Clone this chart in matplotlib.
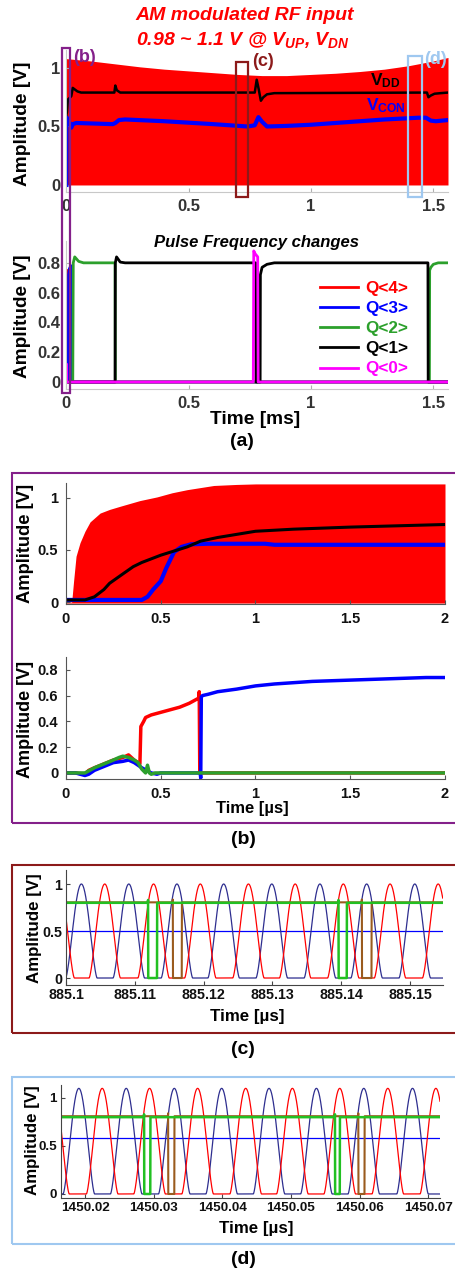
import numpy as np
import matplotlib
matplotlib.use("Agg")
import matplotlib.pyplot as plt
from matplotlib.patches import Rectangle

plt.rcParams['font.family'] = ['Liberation Sans', 'DejaVu Sans']
plt.rcParams['font.weight'] = 'bold'
plt.rcParams['mathtext.fontset'] = 'custom'
plt.rcParams['mathtext.rm'] = 'Liberation Sans:bold'
plt.rcParams['mathtext.bf'] = 'Liberation Sans:bold'
plt.rcParams['mathtext.it'] = 'Liberation Sans:bold:italic'

# ---------------- (a) upper: RF envelope, VDD, VCON (time in ms) ----------------
rf_env_t = [0.00, 0.10, 0.20, 0.30, 0.40, 0.50, 0.60, 0.70, 0.80, 0.90, 1.00, 1.10, 1.20, 1.30, 1.40, 1.50, 1.56]
rf_env_v = [1.08, 1.06, 1.035, 1.01, 0.99, 0.975, 0.96, 0.945, 0.935, 0.935, 0.945, 0.955, 0.97, 0.99, 1.02, 1.06, 1.09]

vdd_t = [0.000, 0.002, 0.006, 0.016, 0.020, 0.026, 0.032, 0.045, 0.060, 0.196, 0.200, 0.206, 0.220,
         0.770, 0.778, 0.786, 0.795, 0.805, 0.820, 0.850, 1.474, 1.480, 1.490, 1.505, 1.530, 1.560]
vdd_v = [0.60, 0.62, 0.73, 0.75, 0.76, 0.83, 0.82, 0.80, 0.79, 0.79, 0.85, 0.81, 0.79,
         0.79, 0.90, 0.82, 0.72, 0.75, 0.775, 0.785, 0.79, 0.75, 0.765, 0.78, 0.785, 0.79]

vcon_t = [0.000, 0.0005, 0.002, 0.008, 0.016, 0.020, 0.026, 0.040, 0.190, 0.200, 0.215, 0.240, 0.400,
          0.600, 0.740, 0.770, 0.785, 0.800, 0.820, 0.900, 1.000, 1.100, 1.200, 1.300, 1.440, 1.470,
          1.490, 1.510, 1.560]
vcon_v = [0.00, 0.58, 0.57, 0.55, 0.52, 0.49, 0.52, 0.53, 0.52, 0.53, 0.555, 0.56, 0.545,
          0.52, 0.50, 0.51, 0.58, 0.54, 0.50, 0.505, 0.515, 0.53, 0.545, 0.56, 0.575, 0.575,
          0.55, 0.545, 0.555]

# ---------------- (a) lower: counter outputs Q<4:0> ----------------
q_labels = ['Q<4>', 'Q<3>', 'Q<2>', 'Q<1>', 'Q<0>']
q4_t = [0.0, 0.001, 0.002, 0.004, 0.007, 0.0085, 0.009, 1.56]
q4_v = [0.0, 0.12, 0.70, 0.74, 0.75, 0.75, 0.0, 0.0]
q3_t = [0.0, 0.008, 0.009, 0.012, 0.018, 0.020, 0.021, 1.56]
q3_v = [0.0, 0.0, 0.72, 0.76, 0.78, 0.78, 0.0, 0.0]
q2_t = [0.0, 0.026, 0.028, 0.034, 0.050, 0.070, 0.199, 0.200, 1.484, 1.485, 1.490, 1.500, 1.520, 1.560]
q2_v = [0.0, 0.0, 0.80, 0.84, 0.81, 0.80, 0.80, 0.0, 0.0, 0.75, 0.77, 0.79, 0.80, 0.80]
q1_t = [0.0, 0.199, 0.200, 0.205, 0.220, 0.240, 0.774, 0.775, 0.792, 0.793, 0.800, 0.820, 0.850,
        1.478, 1.479, 1.560]
q1_v = [0.0, 0.0, 0.80, 0.84, 0.805, 0.80, 0.80, 0.0, 0.0, 0.72, 0.77, 0.79, 0.80, 0.80, 0.0, 0.0]
q0_t = [0.0, 0.0005, 0.001, 0.0015, 0.764, 0.766, 0.772, 0.782, 0.784, 1.56]
q0_v = [0.0, 0.12, 0.12, 0.0, 0.0, 0.88, 0.86, 0.84, 0.0, 0.0]

# ---------------- (b) start-up (time in us) ----------------
b_rf_t = [0.00, 0.03, 0.04, 0.053, 0.074, 0.10, 0.127, 0.18, 0.23, 0.285, 0.39, 0.48, 0.56, 0.64,
          0.71, 0.78, 0.90, 1.00, 1.50, 2.00]
b_rf_v = [0.00, 0.00, 0.20, 0.44, 0.57, 0.68, 0.77, 0.855, 0.89, 0.92, 0.975, 1.01, 1.05, 1.08,
          1.10, 1.12, 1.13, 1.135, 1.135, 1.135]
b_vdd_t = [0.00, 0.10, 0.15, 0.20, 0.23, 0.30, 0.355, 0.40, 0.50, 0.57, 0.64, 0.71, 0.80, 0.90,
           1.00, 1.20, 1.50, 1.80, 2.00]
b_vdd_v = [0.02, 0.02, 0.05, 0.12, 0.18, 0.27, 0.34, 0.38, 0.45, 0.49, 0.53, 0.585, 0.62, 0.65,
           0.68, 0.70, 0.72, 0.735, 0.745]
b_vcon_t = [0.00, 0.40, 0.43, 0.46, 0.50, 0.53, 0.57, 0.61, 0.66, 0.75, 1.05, 1.10, 2.00]
b_vcon_v = [0.02, 0.02, 0.05, 0.12, 0.20, 0.33, 0.48, 0.53, 0.555, 0.56, 0.56, 0.55, 0.55]

b_q4_t = [0.00, 0.05, 0.10, 0.12, 0.15, 0.20, 0.25, 0.30, 0.33, 0.36, 0.39, 0.395, 0.41, 0.42,
          0.45, 0.50, 0.55, 0.60, 0.65, 0.70, 0.703, 0.706, 2.00]
b_q4_v = [0.00, 0.00, -0.01, 0.02, 0.04, 0.07, 0.10, 0.12, 0.14, 0.10, 0.07, 0.36, 0.40, 0.43,
          0.45, 0.47, 0.49, 0.51, 0.54, 0.58, 0.63, 0.0, 0.0]
b_q3_t = [0.00, 0.05, 0.10, 0.12, 0.15, 0.20, 0.25, 0.30, 0.33, 0.36, 0.40, 0.45, 0.48, 0.50,
          0.708, 0.711, 0.714, 0.72, 0.75, 0.80, 0.90, 1.00, 1.10, 1.20, 1.30, 1.40, 1.50, 1.60,
          1.70, 1.80, 1.90, 2.00]
b_q3_v = [0.00, 0.00, -0.02, -0.01, 0.02, 0.05, 0.08, 0.09, 0.10, 0.08, 0.04, 0.00, -0.01, 0.00,
          0.00, -0.04, 0.59, 0.60, 0.61, 0.63, 0.65, 0.675, 0.69, 0.70, 0.71, 0.715, 0.72, 0.725,
          0.73, 0.735, 0.74, 0.74]
b_q2_t = [0.00, 0.05, 0.10, 0.15, 0.20, 0.25, 0.28, 0.30, 0.33, 0.36, 0.38, 0.40, 0.42, 0.43,
          0.44, 0.45, 0.47, 2.00]
b_q2_v = [0.00, 0.00, 0.00, 0.04, 0.07, 0.10, 0.12, 0.13, 0.12, 0.10, 0.08, 0.03, 0.00, 0.06,
          0.00, -0.01, 0.00, 0.00]

# ---------------- (c) steady state near 885.1 us ----------------
c_navy_peaks = [885.1022, 885.1091, 885.1161, 885.1229, 885.1299, 885.1369, 885.1437, 885.1507]
c_red_peaks = [885.0989, 885.1056, 885.1127, 885.1195, 885.1265, 885.1333, 885.1403, 885.1471, 885.1541]
c_rf_amp = 1.0
c_vcon = 0.50
c_q_green_level, c_q_brown_level = 0.80, 0.805
c_green_dips = [(885.1119, 885.1132), (885.1396, 885.1408)]
c_brown_dips = [(885.1155, 885.1168), (885.1430, 885.1444)]
c_ticks = [885.10, 885.11, 885.12, 885.13, 885.14, 885.15]
c_ticklabels = ['885.1', '885.11', '885.12', '885.13', '885.14', '885.15']

# ---------------- (d) steady state near 1450 us ----------------
d_navy_peaks = [1450.0191, 1450.0260, 1450.0330, 1450.0399, 1450.0468, 1450.0537, 1450.0606, 1450.0677]
d_red_peaks = [1450.0154, 1450.0225, 1450.0294, 1450.0364, 1450.0434, 1450.0502, 1450.0571,
               1450.0641, 1450.0711]
d_rf_amp = 1.10
d_vcon = 0.58
d_q_green_level, d_q_brown_level = 0.80, 0.81
d_green_dips = [(1450.0286, 1450.0295), (1450.0564, 1450.0571)]
d_brown_dips = [(1450.0321, 1450.0330), (1450.0598, 1450.0607)]
d_ticks = [1450.02, 1450.03, 1450.04, 1450.05, 1450.06, 1450.07]
d_ticklabels = ['1450.02', '1450.03', '1450.04', '1450.05', '1450.06', '1450.07']

RED, BLUE, GREEN, MAG = '#ff0000', '#0000ff', '#2ca02c', '#ff00ff'
NAVY, BROWN, LGREEN = '#2e2e8f', '#9a5b1e', '#22c022'
PURPLE, DARKRED, LBLUE = '#84208a', '#8c1a1a', '#9fc8f0'

W, H = 456, 1272
fig = plt.figure(figsize=(W / 100, H / 100), dpi=100)


def px_axes(left, right, top, bottom):
    return fig.add_axes([left / W, 1 - bottom / H, (right - left) / W, (bottom - top) / H])


def ftext(x, y, s, **kw):
    kw.setdefault('ha', 'center')
    kw.setdefault('va', 'center')
    return fig.text(x / W, 1 - y / H, s, **kw)


def style(ax, spine, tickc, labelc, size, xpad, ypad):
    for s in ('top', 'right'):
        ax.spines[s].set_visible(False)
    for s in ('left', 'bottom'):
        ax.spines[s].set_color(spine)
        ax.spines[s].set_linewidth(0.8)
    ax.tick_params(direction='in', length=3, width=0.8, color=tickc)
    ax.tick_params(labelcolor=labelc, labelsize=size)
    ax.tick_params(axis='x', pad=xpad)
    ax.tick_params(axis='y', pad=ypad)
    ax.set_facecolor('none')


def pulse_train(ax, peaks, amp, color, lw):
    lo, hi = ax.get_xlim()
    t = np.linspace(lo, hi, 4000)
    period = np.mean(np.diff(peaks))
    width = 0.66 * period
    v = np.zeros_like(t)
    for tp in peaks:
        d = t - tp
        m = np.abs(d) < width / 2
        v[m] += amp * np.cos(np.pi * d[m] / width) ** 1.5
    ax.plot(t, v, color=color, lw=lw)


def q_trace(ax, level, dips, color, lw, spike=0.03):
    lo, hi = ax.get_xlim()
    edge = (hi - lo) / 2000
    t, v = [lo], [level]
    for a, b in dips:
        t += [a - edge, a, a + edge, b, b + edge]
        v += [level, level + spike, 0.0, 0.0, level]
    t.append(hi)
    v.append(level)
    ax.plot(t, v, color=color, lw=lw)


# ======================= panel (a) =======================
ax1 = px_axes(66.4, 448, 50.45, 192)
ax1.set_xlim(0, 1.56)
ax1.set_ylim(-0.06, 1.15)
ax1.fill_between(rf_env_t, 0, rf_env_v, color=RED, lw=0)
ax1.plot(vcon_t, vcon_v, color=BLUE, lw=3.0, solid_joinstyle='round')
ax1.plot(vdd_t, vdd_v, color='black', lw=1.8)
ax1.set_xticks([0, 0.5, 1, 1.5], ['0', '0.5', '1', '1.5'])
ax1.set_yticks([0, 0.5, 1], ['0', '0.5', '1'])
style(ax1, '#c8c8c8', '#b0b0b0', '#333333', 12, 5, 4.5)
ax1.text(1.305, 0.895, r'$\mathrm{V}_{\mathrm{DD}}$', color='black', fontsize=12.5, ha='center', va='center')
ax1.text(1.305, 0.675, r'$\mathrm{V}_{\mathrm{CON}}$', color=BLUE, fontsize=12.5, ha='center', va='center')

ax2 = px_axes(66.4, 448, 240.5, 389)
ax2.set_xlim(0, 1.56)
ax2.set_ylim(-0.047, 0.95)
for (tt, vv, col, lab) in zip([q4_t, q3_t, q2_t, q1_t, q0_t], [q4_v, q3_v, q2_v, q1_v, q0_v],
                              [RED, BLUE, GREEN, 'black', MAG], q_labels):
    ax2.plot(tt, vv, color=col, lw=2.0, label=lab)
ax2.set_xticks([0, 0.5, 1, 1.5], ['0', '0.5', '1', '1.5'])
ax2.set_yticks([0, 0.2, 0.4, 0.6, 0.8], ['0', '0.2', '0.4', '0.6', '0.8'])
style(ax2, '#c8c8c8', '#b0b0b0', '#333333', 12, 5, 4.5)
leg = ax2.legend(loc='upper left', bbox_to_anchor=(320 / W, 1 - 281 / H), bbox_transform=fig.transFigure,
                 frameon=False, borderaxespad=0, borderpad=0, handlelength=2.2, handletextpad=0.45,
                 labelspacing=0.3, prop={'size': 12.3, 'weight': 'bold'})
for txt, ln in zip(leg.get_texts(), leg.get_lines()):
    txt.set_color(ln.get_color())

ftext(245, 15.8, 'AM modulated RF input', color=RED, fontsize=14, style='italic')
ftext(243, 40, r'0.98 ~ 1.1 V @ $V_{UP}$, $V_{DN}$', color=RED, fontsize=14, style='italic')
ftext(256.7, 243, 'Pulse Frequency changes', color='black', fontsize=12, style='italic')
ftext(22.5, 123.4, 'Amplitude [V]', rotation=90, fontsize=13.8)
ftext(22.5, 315.8, 'Amplitude [V]', rotation=90, fontsize=13.7)
ftext(255, 420, 'Time [ms]', fontsize=13.8)
ftext(242, 441, '(a)', fontsize=14)

# zoom-window markers on panel (a)
inv = fig.transFigure.inverted()


def to_fig(ax, x, y):
    return inv.transform(ax.transData.transform((x, y)))


def marker_box(ax_top, ax_bot, t0, t1, v_top, v_bot, color):
    x0, y1 = to_fig(ax_top, t0, v_top)
    x1, y0 = to_fig(ax_bot, t1, v_bot)
    fig.patches.append(Rectangle((x0, y0), x1 - x0, y1 - y0, transform=fig.transFigure,
                                 fill=False, edgecolor=color, lw=1.6))


marker_box(ax1, ax2, -0.0168, 0.0147, 1.167, -0.076, PURPLE)
marker_box(ax1, ax1, 0.693, 0.743, 1.054, -0.10, DARKRED)
marker_box(ax1, ax1, 1.397, 1.452, 1.10, -0.10, LBLUE)
ftext(85, 58, '(b)', color=PURPLE, fontsize=13)
ftext(263, 61, '(c)', color=DARKRED, fontsize=13)
ftext(436, 60, '(d)', color=LBLUE, fontsize=13)

# ======================= panel (b) =======================
ax3 = px_axes(66, 445, 483.4, 604.1)
ax3.set_xlim(0, 2)
ax3.set_ylim(-0.02, 1.14)
ax3.fill_between(b_rf_t, -0.01, b_rf_v, color=RED, lw=0)
ax3.plot(b_vcon_t, b_vcon_v, color=BLUE, lw=3.0)
ax3.plot(b_vdd_t, b_vdd_v, color='black', lw=2.2)
ax3.set_xticks([0, 0.5, 1, 1.5, 2], ['0', '0.5', '1', '1.5', '2'])
ax3.set_yticks([0, 0.5, 1], ['0', '0.5', '1'])
style(ax3, '#555555', '#555555', '#111111', 10.5, 5.5, 5.5)

ax4 = px_axes(66, 445, 656.9, 779)
ax4.set_xlim(0, 2)
ax4.set_ylim(-0.047, 0.9)
ax4.plot(b_q4_t, b_q4_v, color=RED, lw=2.5)
ax4.plot(b_q3_t, b_q3_v, color=BLUE, lw=2.5)
ax4.plot(b_q2_t, b_q2_v, color=GREEN, lw=2.5)
ax4.set_xticks([0, 0.5, 1, 1.5, 2], ['0', '0.5', '1', '1.5', '2'])
ax4.set_yticks([0, 0.2, 0.4, 0.6, 0.8], ['0', '0.2', '0.4', '0.6', '0.8'])
style(ax4, '#555555', '#555555', '#111111', 10.5, 5.5, 5.5)

ftext(26, 543, 'Amplitude [V]', rotation=90, fontsize=13.2)
ftext(26, 719, 'Amplitude [V]', rotation=90, fontsize=13)
ftext(252, 809, 'Time [\u00b5s]', fontsize=12)
ftext(243, 839, '(b)', fontsize=14)
fig.patches.append(Rectangle((12.3 / W, 1 - 822.7 / H), 460 / W, (822.7 - 473.3) / H,
                             transform=fig.transFigure, fill=False, edgecolor=PURPLE, lw=1.5))

# ======================= panel (c) =======================
ax5 = px_axes(66.25, 442.7, 869.9, 984.6)
ax5.set_xlim(885.1, 885.15476)
ax5.set_ylim(-0.07, 1.15)
ax5.axhline(c_vcon, color=BLUE, lw=0.9)
pulse_train(ax5, c_navy_peaks, c_rf_amp, NAVY, 0.9)
pulse_train(ax5, c_red_peaks, c_rf_amp, RED, 0.9)
q_trace(ax5, c_q_brown_level, c_brown_dips, BROWN, 1.5)
q_trace(ax5, c_q_green_level, c_green_dips, LGREEN, 1.8)
ax5.set_xticks(c_ticks, c_ticklabels)
ax5.set_yticks([0, 0.5, 1], ['0', '0.5', '1'])
style(ax5, '#444444', '#444444', '#111111', 10.3, 2.5, 3)
ftext(35, 928, 'Amplitude [V]', rotation=90, fontsize=12.2)
ftext(247.5, 1016.5, 'Time [\u00b5s]', fontsize=12.2)
ftext(242.5, 1049, '(c)', fontsize=14)
fig.patches.append(Rectangle((11.7 / W, 1 - 1032.7 / H), 460 / W, (1032.7 - 865) / H,
                             transform=fig.transFigure, fill=False, edgecolor=DARKRED, lw=1.5))

# ======================= panel (d) =======================
ax6 = px_axes(61, 440, 1085, 1198.3)
ax6.set_xlim(1450.0165, 1450.0717)
ax6.set_ylim(-0.045, 1.135)
ax6.axhline(d_vcon, color=BLUE, lw=0.9)
pulse_train(ax6, d_navy_peaks, d_rf_amp, NAVY, 0.9)
pulse_train(ax6, d_red_peaks, d_rf_amp, RED, 0.9)
q_trace(ax6, d_q_brown_level, d_brown_dips, BROWN, 1.5)
q_trace(ax6, d_q_green_level, d_green_dips, LGREEN, 1.8)
ax6.set_xticks(d_ticks, d_ticklabels)
ax6.set_yticks([0, 0.5, 1], ['0', '0.5', '1'])
style(ax6, '#444444', '#444444', '#111111', 9.7, 2.5, 3)
ftext(33, 1140, 'Amplitude [V]', rotation=90, fontsize=12.2)
ftext(256, 1228, 'Time [\u00b5s]', fontsize=12.2)
ftext(243, 1260, '(d)', fontsize=14)
fig.patches.append(Rectangle((12.3 / W, 1 - 1244 / H), 460 / W, (1244 - 1076.7) / H,
                             transform=fig.transFigure, fill=False, edgecolor=LBLUE, lw=1.5))

fig.savefig('out.png', dpi=100)
